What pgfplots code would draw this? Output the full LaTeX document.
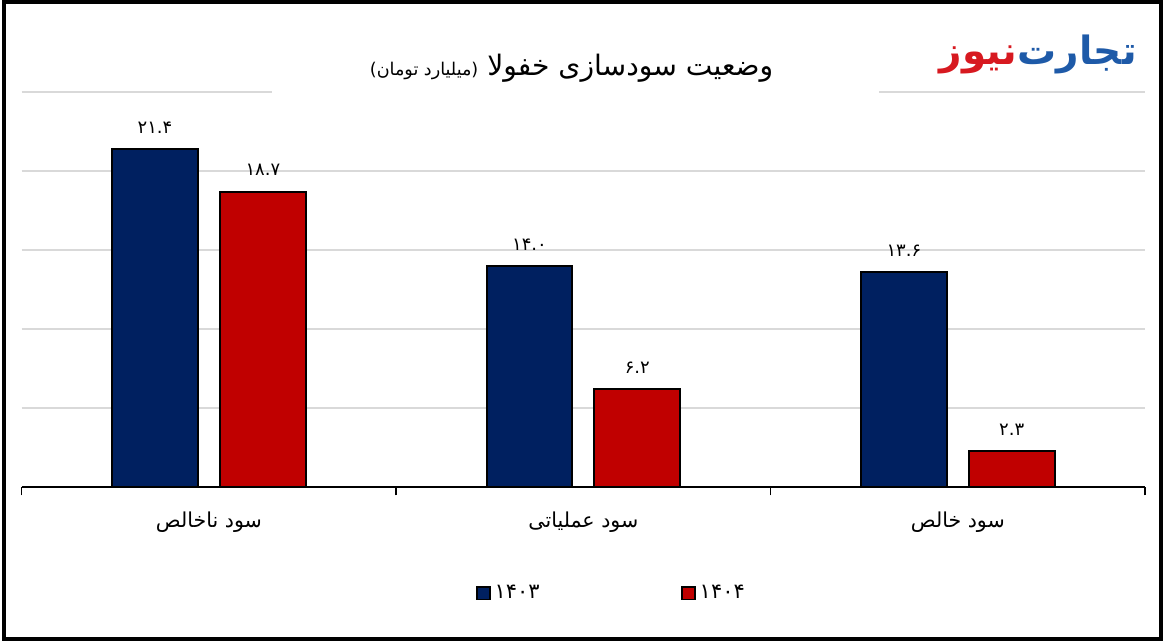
\documentclass[border=0pt]{standalone}
\usepackage{fontspec}
\setmainfont{DejaVu Sans}[Script=Arabic]
\usepackage{pgfplots}
\pgfplotsset{compat=1.18}
\TeXXeTstate=1
\definecolor{c1403}{HTML}{002060}
\definecolor{c1404}{HTML}{C00000}
\definecolor{gridc}{HTML}{D9D9D9}
\definecolor{logoblue}{HTML}{1E5AA8}
\definecolor{logored}{HTML}{D71920}
\begin{document}
\begin{tikzpicture}
\begin{axis}[
  at={(10pt,77pt)}, anchor=south west,
  scale only axis, width=562.5pt, height=198pt,
  xmin=-0.5, xmax=2.5, ymin=0, ymax=25,
  ybar=11pt, bar width=43pt,
  axis line style={draw=none},
  xtick={-0.5,0.5,1.5,2.5},
  xticklabels={},
  xtick style={draw=black, line width=0.75pt},
  major tick length=4pt,
  extra x ticks={0,1,2},
  extra x tick labels={{\beginR سود ناخالص\endR},{\beginR سود عملیاتی\endR},{\beginR سود خالص\endR}},
  extra x tick style={tick style={draw=none}, major tick length=0pt},
  tick align=outside,
  xtick pos=lower,
  ytick={5,10,15,20,25},
  yticklabels={},
  ytick style={draw=none},
  ymajorgrids, grid style={draw=gridc, line width=0.9pt},
  xticklabel style={font=\fontsize{10.3}{12}\selectfont, yshift=-9pt},
  nodes near coords, point meta=explicit symbolic,
  every node near coord/.append style={font=\fontsize{9}{11}\selectfont, text=black, draw=none, fill=none, yshift=4pt},
  legend style={at={(0.526,-0.268)}, anchor=center, draw=none, fill=none, legend columns=2,
    /tikz/every even column/.append style={column sep=69pt}, font=\fontsize{10.5}{12}\selectfont},
  legend image code/.code={\draw[#1, line width=0.75pt] (0pt,-3.2pt) rectangle (6.4pt,3.2pt);},
]
\addplot[fill=c1403, draw=black, line width=1pt] coordinates {(0,21.4)[۲۱.۴] (1,14.0)[۱۴.۰] (2,13.6)[۱۳.۶]};
\addplot[fill=c1404, draw=black, line width=1pt] coordinates {(0,18.7)[۱۸.۷] (1,6.2)[۶.۲] (2,2.3)[۲.۳]};
\legend{۱۴۰۳,۱۴۰۴}
\draw[black, line width=1pt] (axis cs:-0.5,0) -- (axis cs:2.5,0);
\end{axis}
\fill[white] (135.5pt,271pt) rectangle (439.5pt,279pt);
\node[anchor=base east, inner sep=0pt] at (386.5pt,283pt) {\fontsize{14.1}{16}\selectfont\beginR وضعیت سودسازی خفولا\ {\fontsize{8.8}{10}\selectfont (میلیارد تومان)}\endR};
\node[anchor=base east, inner sep=0pt, text=logoblue, font=\fontsize{19.5}{22}\selectfont\bfseries] (lb) at (568.5pt,288.5pt) {تجارت};
\node[anchor=base east, inner sep=0pt, text=logored, font=\fontsize{19.5}{22}\selectfont\bfseries] at (lb.base west) {نیوز};
\draw[line width=2pt] (1pt,1pt) rectangle (580.5pt,320pt);
\end{tikzpicture}
\end{document}
